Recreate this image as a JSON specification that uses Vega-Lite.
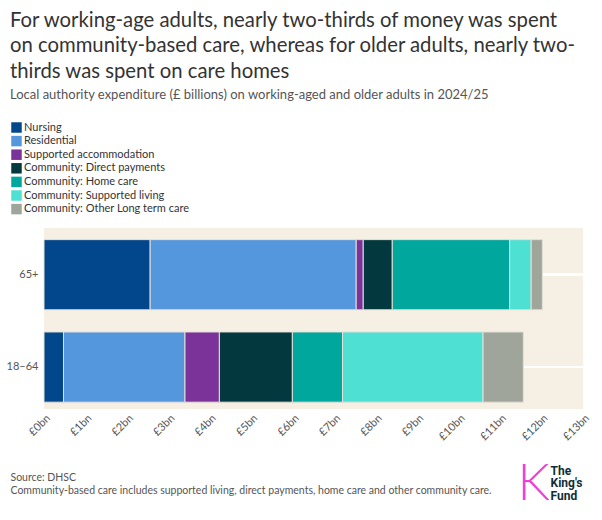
{
  "$schema": "https://vega.github.io/schema/vega-lite/v6.json",
  "autosize": {"type": "none"},
  "width": 539,
  "height": 181,
  "padding": {"left": 44, "top": 228, "right": 19, "bottom": 111},
  "background": "#ffffff",
  "title": {
    "text": [
      "For working-age adults, nearly two-thirds of money was spent",
      "on community-based care, whereas for older adults, nearly two-",
      "thirds was spent on care homes"
    ],
    "subtitle": "Local authority expenditure (£ billions) on working-aged and older adults in 2024/25",
    "anchor": "start",
    "frame": "group",
    "orient": "top",
    "dx": -34,
    "offset": 20,
    "font": "Lato",
    "fontSize": 20.3,
    "fontWeight": "normal",
    "lineHeight": 25.5,
    "color": "#333333",
    "subtitleFont": "Lato",
    "subtitleFontSize": 13,
    "subtitleColor": "#555555",
    "subtitlePadding": 7
  },
  "data": {
    "values": [
      {"group": "65+", "category": "Nursing", "value": 2.56},
      {"group": "65+", "category": "Residential", "value": 4.97},
      {"group": "65+", "category": "Supported accommodation", "value": 0.17},
      {"group": "65+", "category": "Community: Direct payments", "value": 0.70},
      {"group": "65+", "category": "Community: Home care", "value": 2.83},
      {"group": "65+", "category": "Community: Supported living", "value": 0.52},
      {"group": "65+", "category": "Community: Other Long term care", "value": 0.27},
      {"group": "18–64", "category": "Nursing", "value": 0.47},
      {"group": "18–64", "category": "Residential", "value": 2.93},
      {"group": "18–64", "category": "Supported accommodation", "value": 0.83},
      {"group": "18–64", "category": "Community: Direct payments", "value": 1.76},
      {"group": "18–64", "category": "Community: Home care", "value": 1.21},
      {"group": "18–64", "category": "Community: Supported living", "value": 3.39},
      {"group": "18–64", "category": "Community: Other Long term care", "value": 0.97}
    ]
  },
  "transform": [
    {
      "calculate": "indexof(['Nursing', 'Residential', 'Supported accommodation', 'Community: Direct payments', 'Community: Home care', 'Community: Supported living', 'Community: Other Long term care'], datum.category)",
      "as": "stackOrder"
    }
  ],
  "layer": [
    {
      "mark": {"type": "rule", "color": "#ffffff", "strokeWidth": 2},
      "encoding": {
        "y": {
          "field": "group",
          "type": "nominal",
          "sort": ["65+", "18–64"],
          "axis": {
            "orient": "right",
            "labels": false,
            "ticks": false,
            "domain": false,
            "grid": false,
            "title": "K",
            "titleAngle": 0,
            "titleAlign": "left",
            "titleBaseline": "top",
            "titleX": -66,
            "titleY": 231,
            "titleFont": "Lato",
            "titleFontSize": 51,
            "titleFontWeight": 300,
            "titleColor": "#ef3fd6"
          }
        },
        "x": {"datum": 0, "type": "quantitative"},
        "x2": {"datum": 13}
      }
    },
    {
      "mark": {"type": "bar", "stroke": "#e4e0d8", "strokeWidth": 1},
      "encoding": {
        "y": {
          "field": "group",
          "type": "nominal",
          "sort": ["65+", "18–64"],
          "scale": {"paddingInner": 0.24, "paddingOuter": 0.1, "align": 0.63},
          "axis": {
            "orient": "left",
            "title": ["The", "King's", "Fund"],
            "titleAngle": 0,
            "titleAlign": "left",
            "titleBaseline": "top",
            "titleX": 506,
            "titleY": 237,
            "titleFont": "Roboto",
            "titleFontSize": 12,
            "titleFontWeight": "bold",
            "titleLineHeight": 12.5,
            "titleColor": "#0d2f35",
            "domain": false,
            "ticks": false,
            "grid": false,
            "labelPadding": 6,
            "labelFont": "Lato",
            "labelFontSize": 11,
            "labelColor": "#555555"
          }
        },
        "x": {
          "field": "value",
          "type": "quantitative",
          "stack": "zero",
          "scale": {"domain": [0, 13], "nice": false},
          "axis": {
            "values": [0, 1, 2, 3, 4, 5, 6, 7, 8, 9, 10, 11, 12, 13],
            "labelExpr": "'£' + datum.value + 'bn'",
            "labelAngle": -45,
            "labelFont": "Lato",
            "labelFontSize": 11,
            "labelColor": "#555555",
            "labelPadding": 3,
            "labelOverlap": false,
            "domain": false,
            "ticks": false,
            "grid": false,
            "title": [
              "Source: DHSC",
              "Community-based care includes supported living, direct payments, home care and other community care."
            ],
            "titleX": -34,
            "titleY": 63,
            "titleAlign": "left",
            "titleBaseline": "top",
            "titleFont": "Lato",
            "titleFontSize": 10.5,
            "titleFontWeight": "normal",
            "titleLineHeight": 13,
            "titleColor": "#555555"
          }
        },
        "order": {"field": "stackOrder", "type": "quantitative", "sort": "ascending"},
        "color": {
          "field": "category",
          "type": "nominal",
          "scale": {
            "domain": [
              "Nursing",
              "Residential",
              "Supported accommodation",
              "Community: Direct payments",
              "Community: Home care",
              "Community: Supported living",
              "Community: Other Long term care"
            ],
            "range": ["#02468b", "#5597dd", "#7b3399", "#02383e", "#00a79c", "#4fe0d4", "#9fa59b"]
          },
          "legend": {
            "title": null,
            "orient": "none",
            "legendX": -33,
            "legendY": -106,
            "direction": "vertical",
            "symbolType": "square",
            "symbolSize": 110,
            "symbolStrokeWidth": 0,
            "symbolOpacity": 1,
            "labelFont": "Lato",
            "labelFontSize": 11,
            "labelColor": "#333333",
            "labelOffset": 2,
            "labelLimit": 300,
            "rowPadding": 1.6
          }
        }
      }
    }
  ],
  "resolve": {"axis": {"y": "independent"}},
  "config": {
    "view": {"fill": "#f6f0e4", "stroke": null}
  }
}
